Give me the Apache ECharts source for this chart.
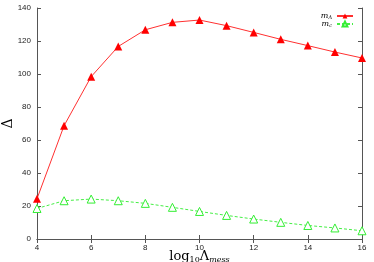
<!DOCTYPE html>
<html>
<head>
<meta charset="utf-8">
<script src="https://cdn.jsdelivr.net/npm/echarts@6/dist/echarts.min.js"></script>
<style>
  html, body { margin: 0; padding: 0; background: #fff; }
  #main { width: 374px; height: 262px; }
</style>
</head>
<body>
<div id="main"></div>
<script>
// log10 of messenger scale
var xValues = [4, 5, 6, 7, 8, 9, 10, 11, 12, 13, 14, 15, 16];
var mLambda = [24.4, 68.7, 98.4, 116.7, 126.8, 131.3, 132.7, 129.3, 125.2, 121.0, 117.2, 113.3, 109.7];
var mC = [18.5, 23.2, 24.2, 23.2, 21.6, 19.2, 16.7, 14.3, 12.1, 10.1, 8.2, 6.7, 5.0];
var xTicks = [4, 6, 8, 10, 12, 14, 16];
var yTicks = [0, 20, 40, 60, 80, 100, 120, 140];

var pair = function (arr) {
  return xValues.map(function (x, i) { return [x, arr[i]]; });
};

var chart = echarts.init(document.getElementById('main'), null, { renderer: 'canvas' });

var axisLine = { show: true, lineStyle: { color: '#555', width: 1 } };
var tickIn = { show: true, inside: true, length: 4, lineStyle: { color: '#555' } };

chart.setOption({
  animation: false,
  grid: { left: 37, right: 12, top: 8, bottom: 23, containLabel: false, outerBoundsMode: 'none' },
  legend: {
    right: 20,
    top: 12,
    padding: 0,
    orient: 'vertical',
    align: 'right',
    itemGap: 0,
    itemWidth: 16,
    itemHeight: 6,
    textStyle: {
      fontFamily: 'DejaVu Serif',
      fontStyle: 'italic',
      fontSize: 8,
      lineHeight: 7,
      color: '#000',
      rich: {
        sub: { fontSize: 5, lineHeight: 7, fontFamily: 'DejaVu Serif', padding: [3, 0, 0, 0] }
      }
    },
    formatter: function (name) {
      return name === 'mL' ? 'm{sub|Λ}' : 'm{sub|c}';
    },
    data: ['mL', 'mC']
  },
  xAxis: [{
    type: 'value',
    min: 4, max: 16, interval: 2,
    axisLine: axisLine,
    axisTick: tickIn,
    splitLine: { show: false },
    axisLabel: { fontSize: 8, color: '#222', fontFamily: 'Liberation Sans', margin: 5 },
    name: 'log{sub|10}Λ{isub|mess}',
    nameLocation: 'middle',
    nameMoveOverlap: false,
    nameGap: 11,
    nameTextStyle: {
      fontFamily: 'DejaVu Serif', fontSize: 13, color: '#000',
      verticalAlign: 'top',
      rich: {
        sub: { fontFamily: 'DejaVu Serif', fontSize: 8, padding: [6, 0, 0, 0], color: '#000' },
        isub: { fontFamily: 'DejaVu Serif', fontStyle: 'italic', fontSize: 8, padding: [6, 0, 0, 0], color: '#000' }
      }
    }
  }, {
    type: 'value', position: 'top',
    min: 4, max: 16, interval: 2,
    axisLine: axisLine, axisTick: tickIn,
    axisLabel: { show: false }, splitLine: { show: false }
  }],
  yAxis: [{
    type: 'value',
    min: 0, max: 140, interval: 20,
    axisLine: axisLine,
    axisTick: tickIn,
    splitLine: { show: false },
    axisLabel: { fontSize: 8, color: '#222', fontFamily: 'Liberation Sans', margin: 6 },
    name: 'Δ',
    nameLocation: 'middle',
    nameMoveOverlap: false,
    nameGap: 22,
    nameRotate: 90,
    nameTextStyle: { fontFamily: 'DejaVu Serif', fontSize: 14, color: '#000' }
  }, {
    type: 'value', position: 'right',
    min: 0, max: 140, interval: 20,
    axisLine: axisLine, axisTick: tickIn,
    axisLabel: { show: false }, splitLine: { show: false }
  }],
  series: [{
    name: 'mL',
    type: 'line',
    data: pair(mLambda),
    symbol: 'triangle',
    symbolSize: 8,
    lineStyle: { color: '#ff3030', width: 1 },
    itemStyle: { color: '#ff0000' }
  }, {
    name: 'mC',
    type: 'line',
    data: pair(mC),
    symbol: 'triangle',
    symbolSize: 8,
    lineStyle: { color: '#44ee44', width: 1, type: [3, 2] },
    itemStyle: { color: '#fff', borderColor: '#33ee33', borderWidth: 1 }
  }]
});
</script>
</body>
</html>
